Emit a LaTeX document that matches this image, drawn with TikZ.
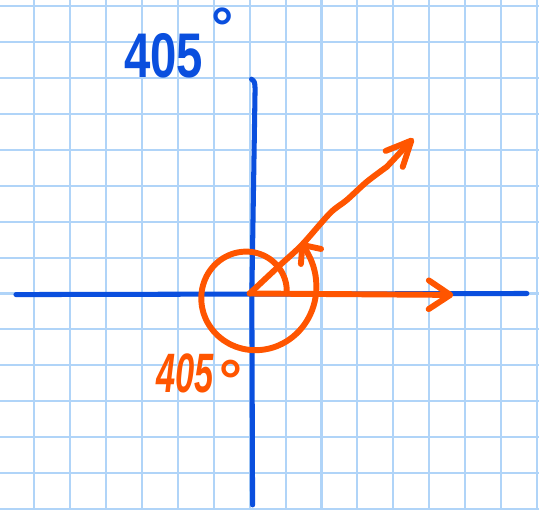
\documentclass[tikz,border=0pt]{standalone}
\usepackage{fontspec}
\setmainfont{Liberation Sans}
\usepackage{tikz}
\usetikzlibrary{arrows.meta,positioning}

\definecolor{gridblue}{HTML}{B0D4F8}
\definecolor{penblue}{HTML}{0A4FDE}
\definecolor{penorange}{HTML}{FF5500}

\tikzset{
  gridline/.style={gridblue, line width=1.6pt},
  axisline/.style={penblue, line width=4pt, line cap=round, line join=round},
  penline/.style={penorange, line width=4.7pt, line cap=round, line join=round},
  bluetext/.style={penblue, font=\fontsize{50}{50}\selectfont\bfseries, inner sep=0pt},
  orangetext/.style={penorange, font=\fontsize{44}{44}\selectfont\bfseries\itshape, inner sep=0pt},
}

\begin{document}
\begin{tikzpicture}
    \useasboundingbox (-6.955,-6.03) rectangle (8.058,8.175);
    \clip (-6.955,-6.03) rectangle (8.058,8.175);
    \fill[white] (-6.955,-6.03) rectangle (8.058,8.175);
    % squared paper
    \draw[gridline] (-7,-6) grid (8.5,8.5);

    \coordinate (O) at (0,0);
    \coordinate (xStart) at (-6.51,-0.03);
    \coordinate (xEnd) at (7.72,0);
    \coordinate (yTop) at (0.05,5.97);
    \coordinate (yBot) at (0.08,-5.89);
    \coordinate (xTip) at (5.67,-0.04);
    \coordinate (rayTip) at (4.56,4.32);

    % axes
    \draw[axisline] (xStart) -- (xEnd);
    \draw[axisline] (yTop) .. controls (0.14,5.9) .. (0.15,5.7) -- (0.06,0) -- (yBot);

    % initial and terminal side
    \draw[penline, -{Straight Barb[round, length=6mm, width=8mm]}] (O) -- (xTip);
    \draw[penline, -{Straight Barb[round, length=7mm, width=6.5mm]}]
        plot[smooth] coordinates {(0,0) (0.8,0.75) (1.45,1.35) (2.24,2.24) (2.7,2.6) (3.26,3.11) (3.82,3.53)} -- (rayTip);

    % 405 degree turn
    \draw[penline, -{Straight Barb[round, length=4mm, width=7mm]}]
        plot[smooth, domain=0:405, samples=55, variable=\t]
        ({(1.03+0.4875*(\t/405+(\t/405)^2))*cos(\t)}, {(1.03+0.4875*(\t/405+(\t/405)^2))*sin(\t)});

    % labels
    \node[bluetext, anchor=base west] (blueLabel) at (-3.5,6.03)
        {\scalebox{0.75}[1]{405}\hspace{0.22cm}\raisebox{0.85cm}{\fontsize{44}{44}\selectfont °}};
    \node[orangetext, anchor=base west] (orangeLabel) at (-2.6,-2.77)
        {\scalebox{0.62}[1]{405}\hspace{0.08cm}\raisebox{-0.2cm}{\fontsize{46}{46}\selectfont °}};
\end{tikzpicture}
\end{document}
